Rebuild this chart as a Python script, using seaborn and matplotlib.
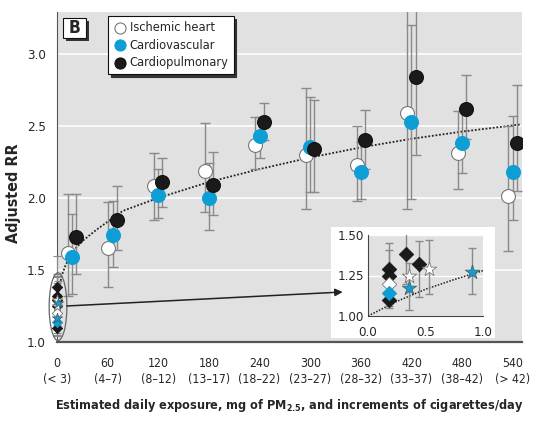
import matplotlib
matplotlib.use("Agg")
import matplotlib.pyplot as plt
import matplotlib.font_manager as fm
from matplotlib.patches import Ellipse, Rectangle
import seaborn as sns

dose = [18, 66, 120, 180, 240, 300, 360, 420, 480, 540]
tick_pos = [0, 60, 120, 180, 240, 300, 360, 420, 480, 540]
tick_labels = ["0\n(< 3)", "60\n(4–7)", "120\n(8–12)", "180\n(13–17)", "240\n(18–22)",
               "300\n(23–27)", "360\n(28–32)", "420\n(33–37)", "480\n(38–42)", "540\n(> 42)"]

ischemic = [1.62, 1.65, 2.08, 2.19, 2.37, 2.30, 2.23, 2.59, 2.31, 2.01]
ischemic_lo = [1.32, 1.38, 1.85, 1.90, 2.20, 1.92, 1.98, 1.92, 2.06, 1.63]
ischemic_hi = [2.03, 1.97, 2.31, 2.52, 2.56, 2.76, 2.50, 3.50, 2.60, 2.50]

cardiovascular = [1.59, 1.74, 2.02, 2.00, 2.43, 2.35, 2.18, 2.53, 2.38, 2.18]
cardiovascular_lo = [1.33, 1.52, 1.86, 1.78, 2.28, 2.04, 1.99, 1.99, 2.17, 1.85]
cardiovascular_hi = [1.89, 1.98, 2.20, 2.24, 2.56, 2.70, 2.39, 3.20, 2.60, 2.57]

cardiopulmonary = [1.73, 1.85, 2.11, 2.09, 2.53, 2.34, 2.40, 2.84, 2.62, 2.38]
cardiopulmonary_lo = [1.47, 1.64, 1.94, 1.88, 2.40, 2.04, 2.20, 2.30, 2.41, 2.05]
cardiopulmonary_hi = [2.03, 2.08, 2.28, 2.32, 2.66, 2.68, 2.61, 3.60, 2.85, 2.78]

curve_x = [0, 1, 3, 5.5, 10, 17.5, 30, 47, 78, 120, 180, 240, 300, 360, 420, 480, 550]
curve_y = [1.0, 1.28, 1.38, 1.46, 1.53, 1.62, 1.70, 1.78, 1.91, 2.00, 2.11, 2.20, 2.28, 2.35, 2.41, 2.46, 2.51]

diamond_black_x = [0.18, 0.18, 0.18, 0.33, 0.44]
diamond_black_y = [1.29, 1.25, 1.10, 1.38, 1.32]
diamond_black_lo = [1.06, 1.05, 1.10, 1.20, 1.12]
diamond_black_hi = [1.45, 1.41, 1.10, 1.60, 1.46]
diamond_white_x = [0.18]
diamond_white_y = [1.20]
diamond_blue_x = [0.18]
diamond_blue_y = [1.14]
star_white_x = [0.36, 0.53]
star_white_y = [1.25, 1.29]
star_white_lo = [1.25, 1.135]
star_white_hi = [1.25, 1.47]
star_blue_x = [0.36, 0.90]
star_blue_y = [1.17, 1.27]
star_blue_lo = [1.04, 1.135]
star_blue_hi = [1.33, 1.42]

inset_curve_x = [0, 0.25, 0.5, 0.75, 1.0]
inset_curve_y = [1.0, 1.09, 1.165, 1.225, 1.28]

BLUE = "#0d9ed6"
BG = "#e1e1e1"
ERR = "#8a8a8a"

sns.set_style("white")

# pick a narrow face if there is one
names = {f.name for f in fm.fontManager.ttflist}
cond = [f for f in fm.fontManager.ttflist if f.stretch in ("condensed", "semi-condensed") or
        "Condensed" in f.fname or "Narrow" in f.fname]
stretch = "normal"
if "Liberation Sans Narrow" in names:
    fam, k = "Liberation Sans Narrow", 1.05
elif any(f.name == "DejaVu Sans" for f in cond):
    fam, k, stretch = "DejaVu Sans", 1.0, "condensed"
elif cond:
    fam, k = cond[0].name, 1.0
else:
    fam, k = "Liberation Sans", 0.95
plt.rcParams["font.family"] = [fam, "DejaVu Sans"]
plt.rcParams["font.stretch"] = stretch

W, H = 552, 423
fig = plt.figure(figsize=(W / 100, H / 100), dpi=100)


def fx(px):
    return px / W


def fy(py):
    return 1 - py / H


ax = fig.add_axes([fx(57), fy(342), fx(522) - fx(57), fy(12) - fy(342)])
ax.set_facecolor(BG)
ax.set_xlim(0, 551)
ax.set_ylim(1.0, 3.29)
ax.set_yticks([1.0, 1.5, 2.0, 2.5, 3.0])
ax.set_yticklabels(["1.0", "1.5", "2.0", "2.5", "3.0"], fontsize=9.5 * k)
ax.set_xticks(tick_pos)
ax.set_xticklabels(tick_labels, fontsize=8.8 * k, linespacing=1.25)
ax.yaxis.grid(True, color="white", lw=1.2)
ax.set_axisbelow(True)
for s in ["top", "right"]:
    ax.spines[s].set_visible(False)
ax.spines["left"].set_color("#555555")
ax.spines["bottom"].set_color("#555555")
ax.spines["bottom"].set_linewidth(1.6)
ax.tick_params(axis="x", direction="out", length=5, color="#555555", pad=6)
ax.tick_params(axis="y", length=0, pad=8)

sns.lineplot(x=curve_x, y=curve_y, ax=ax, color="#222222", lw=1.3, linestyle=(0, (1, 1)), zorder=2)

series = [
    ("Ischemic heart", ischemic, ischemic_lo, ischemic_hi, -5, "white", "#777777"),
    ("Cardiovascular", cardiovascular, cardiovascular_lo, cardiovascular_hi, 0, BLUE, BLUE),
    ("Cardiopulmonary", cardiopulmonary, cardiopulmonary_lo, cardiopulmonary_hi, 5, "#1a1a1a", "#111111"),
]
for name, vals, lo, hi, off, fc, ec in series:
    xs = [d + off for d in dose]
    ax.errorbar(xs, vals, yerr=[[v - l for v, l in zip(vals, lo)], [h - v for v, h in zip(vals, hi)]],
                fmt="none", ecolor=ERR, elinewidth=1, capsize=3.5, capthick=1, zorder=3)
for name, vals, lo, hi, off, fc, ec in series:
    xs = [d + off for d in dose]
    sns.scatterplot(x=xs, y=vals, ax=ax, s=100, color=fc, edgecolor=ec, linewidth=0.8,
                    zorder=4, label=name)


def small_points(a, sz_d, sz_s, clip):
    kw = dict(ax=a, zorder=5, clip_on=clip, legend=False)
    sns.scatterplot(x=diamond_black_x, y=diamond_black_y, marker="D", s=sz_d,
                    color="#1a1a1a", edgecolor="#111111", linewidth=0.5, **kw)
    sns.scatterplot(x=diamond_white_x, y=diamond_white_y, marker="D", s=sz_d,
                    color="white", edgecolor="#777777", linewidth=0.6, **kw)
    sns.scatterplot(x=diamond_blue_x, y=diamond_blue_y, marker="D", s=sz_d,
                    color=BLUE, edgecolor=BLUE, linewidth=0.5, **kw)
    sns.scatterplot(x=star_white_x, y=star_white_y, marker="*", s=sz_s,
                    color="white", edgecolor="#777777", linewidth=0.6, **kw)
    sns.scatterplot(x=star_blue_x, y=star_blue_y, marker="*", s=sz_s,
                    color=BLUE, edgecolor="#555555", linewidth=0.5, **kw)


low_sets = [(diamond_black_x, diamond_black_y, diamond_black_lo, diamond_black_hi),
            (star_white_x, star_white_y, star_white_lo, star_white_hi),
            (star_blue_x, star_blue_y, star_blue_lo, star_blue_hi)]
for xs, ys, lo, hi in low_sets:
    ax.errorbar(xs, ys, yerr=[[y - l for y, l in zip(ys, lo)], [h - y for y, h in zip(ys, hi)]],
                fmt="none", ecolor=ERR, elinewidth=0.8, capsize=3, capthick=0.8, zorder=3, clip_on=False)
small_points(ax, 28, 60, False)

ax.add_patch(Ellipse((1.2, 1.245), 21, 0.47, fill=False, edgecolor="#666666", lw=0.9,
                     clip_on=False, zorder=6))

# white panel behind the inset
ax.add_patch(Rectangle((fx(331), fy(338)), fx(495) - fx(331), fy(227) - fy(338),
                       transform=fig.transFigure, facecolor="white", edgecolor="none",
                       clip_on=False, zorder=7))
ax.annotate("", xy=(338.5, 1.347), xytext=(11.8, 1.25),
            arrowprops=dict(arrowstyle="-|>", color="#222222", lw=1.1, mutation_scale=11,
                            shrinkA=0, shrinkB=0),
            annotation_clip=False, zorder=8)

ax.set_ylabel("Adjusted RR", fontsize=11.5 * k, fontweight="bold")
ax.yaxis.set_label_coords(-0.078, 0.45)
ax.set_xlabel("Estimated daily exposure, mg of PM$_{\\mathbf{2.5}}$, and increments of cigarettes/day",
              fontsize=9.1 * k, fontweight="bold")
ax.xaxis.set_label_coords(0.5, -0.168)

leg = ax.legend(loc="upper left", bbox_to_anchor=(fx(108), fy(16)), bbox_transform=fig.transFigure,
                borderaxespad=0, frameon=True, fancybox=False, fontsize=9.2 * k, handletextpad=0.3,
                borderpad=0.4, labelspacing=0.35, handlelength=1.0, markerscale=0.8,
                shadow={"color": "#333333", "alpha": 1.0, "ox": 2, "oy": -2})
leg.get_frame().set_edgecolor("#111111")
leg.get_frame().set_linewidth(0.8)
leg.set_zorder(10)

# "B" panel tag
fig.add_artist(Rectangle((fx(66), fy(41)), fx(23), fy(0) - fy(20), transform=fig.transFigure,
                         facecolor="#333333", edgecolor="none"))
fig.add_artist(Rectangle((fx(63), fy(38)), fx(23), fy(0) - fy(20), transform=fig.transFigure,
                         facecolor="white", edgecolor="#111111", lw=0.8))
fig.text(fx(74.5), fy(28), "B", ha="center", va="center", fontsize=12.5 * k, fontweight="bold")

# inset
axi = fig.add_axes([fx(368), fy(316), fx(483) - fx(368), fy(235) - fy(316)])
axi.set_zorder(3)
axi.set_facecolor(BG)
axi.set_xlim(0, 1.0)
axi.set_ylim(1.0, 1.5)
axi.set_xticks([0, 0.5, 1.0])
axi.set_xticklabels(["0.0", "0.5", "1.0"], fontsize=9.5 * k)
axi.set_yticks([1.0, 1.25, 1.5])
axi.set_yticklabels(["1.00", "1.25", "1.50"], fontsize=9.5 * k)
axi.yaxis.grid(True, color="white", lw=1)
axi.set_axisbelow(True)
for s in ["top", "right"]:
    axi.spines[s].set_visible(False)
axi.spines["left"].set_color("#444444")
axi.spines["bottom"].set_color("#444444")
axi.tick_params(axis="x", direction="out", length=4, color="#444444", pad=3)
axi.tick_params(axis="y", length=0, pad=3)
sns.lineplot(x=inset_curve_x, y=inset_curve_y, ax=axi, color="#222222", lw=1.1,
             linestyle=(0, (1, 1)), zorder=2)
for xs, ys, lo, hi in low_sets:
    axi.errorbar(xs, ys, yerr=[[y - l for y, l in zip(ys, lo)], [h - y for y, h in zip(ys, hi)]],
                 fmt="none", ecolor=ERR, elinewidth=1, capsize=3, capthick=1, zorder=3)
small_points(axi, 55, 120, True)
axi.set_xlabel("")
axi.set_ylabel("")

fig.savefig("out.png", dpi=100)
